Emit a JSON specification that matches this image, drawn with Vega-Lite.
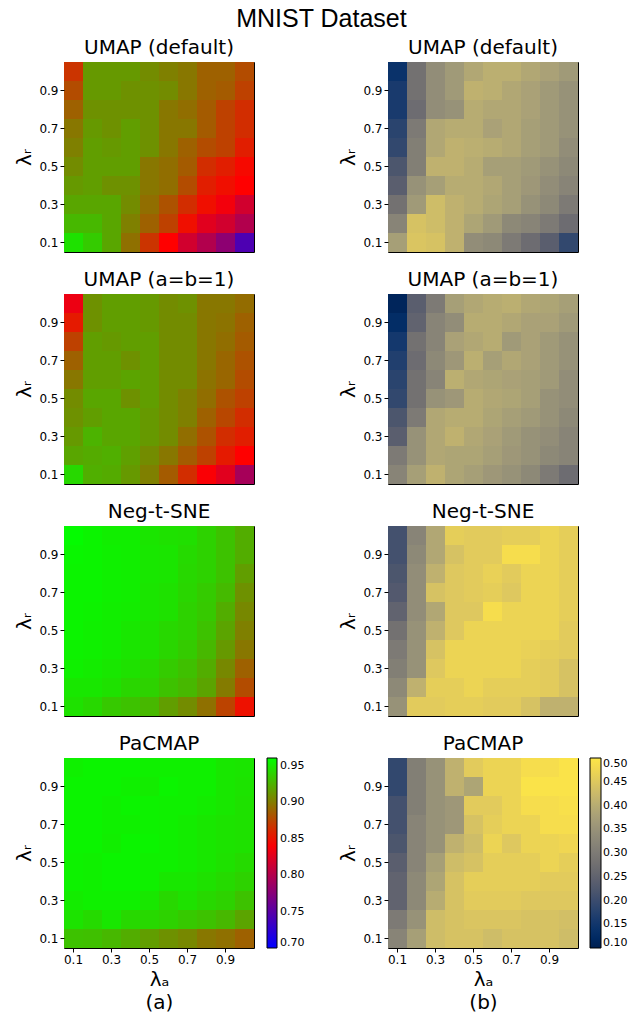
{
"$schema":"https://vega.github.io/schema/vega-lite/v6.json",
"background":"white",
"padding":{"left":14,"top":6,"right":2,"bottom":2},
"title":{"text":"MNIST Dataset","font":"Liberation Sans","fontSize":25,"anchor":"middle","offset":6},
"datasets":{
"a1":[
{"x":0.1,"y":1,"v":0.867},{"x":0.2,"y":1,"v":0.914},{"x":0.3,"y":1,"v":0.914},{"x":0.4,"y":1,"v":0.914},{"x":0.5,"y":1,"v":0.908},{"x":0.6,"y":1,"v":0.902},{"x":0.7,"y":1,"v":0.898},{"x":0.8,"y":1,"v":0.888},{"x":0.9,"y":1,"v":0.888},{"x":1,"y":1,"v":0.878},
{"x":0.1,"y":0.9,"v":0.878},{"x":0.2,"y":0.9,"v":0.914},{"x":0.3,"y":0.9,"v":0.914},{"x":0.4,"y":0.9,"v":0.910},{"x":0.5,"y":0.9,"v":0.910},{"x":0.6,"y":0.9,"v":0.908},{"x":0.7,"y":0.9,"v":0.898},{"x":0.8,"y":0.9,"v":0.888},{"x":0.9,"y":0.9,"v":0.885},{"x":1,"y":0.9,"v":0.873},
{"x":0.1,"y":0.8,"v":0.888},{"x":0.2,"y":0.8,"v":0.910},{"x":0.3,"y":0.8,"v":0.910},{"x":0.4,"y":0.8,"v":0.910},{"x":0.5,"y":0.8,"v":0.910},{"x":0.6,"y":0.8,"v":0.898},{"x":0.7,"y":0.8,"v":0.894},{"x":0.8,"y":0.8,"v":0.885},{"x":0.9,"y":0.8,"v":0.873},{"x":1,"y":0.8,"v":0.864},
{"x":0.1,"y":0.7,"v":0.898},{"x":0.2,"y":0.7,"v":0.914},{"x":0.3,"y":0.7,"v":0.910},{"x":0.4,"y":0.7,"v":0.916},{"x":0.5,"y":0.7,"v":0.910},{"x":0.6,"y":0.7,"v":0.898},{"x":0.7,"y":0.7,"v":0.898},{"x":0.8,"y":0.7,"v":0.885},{"x":0.9,"y":0.7,"v":0.873},{"x":1,"y":0.7,"v":0.864},
{"x":0.1,"y":0.6,"v":0.902},{"x":0.2,"y":0.6,"v":0.916},{"x":0.3,"y":0.6,"v":0.914},{"x":0.4,"y":0.6,"v":0.916},{"x":0.5,"y":0.6,"v":0.910},{"x":0.6,"y":0.6,"v":0.898},{"x":0.7,"y":0.6,"v":0.888},{"x":0.8,"y":0.6,"v":0.878},{"x":0.9,"y":0.6,"v":0.873},{"x":1,"y":0.6,"v":0.857},
{"x":0.1,"y":0.5,"v":0.908},{"x":0.2,"y":0.5,"v":0.916},{"x":0.3,"y":0.5,"v":0.916},{"x":0.4,"y":0.5,"v":0.916},{"x":0.5,"y":0.5,"v":0.898},{"x":0.6,"y":0.5,"v":0.894},{"x":0.7,"y":0.5,"v":0.885},{"x":0.8,"y":0.5,"v":0.864},{"x":0.9,"y":0.5,"v":0.857},{"x":1,"y":0.5,"v":0.847},
{"x":0.1,"y":0.4,"v":0.914},{"x":0.2,"y":0.4,"v":0.916},{"x":0.3,"y":0.4,"v":0.910},{"x":0.4,"y":0.4,"v":0.910},{"x":0.5,"y":0.4,"v":0.898},{"x":0.6,"y":0.4,"v":0.894},{"x":0.7,"y":0.4,"v":0.878},{"x":0.8,"y":0.4,"v":0.857},{"x":0.9,"y":0.4,"v":0.850},{"x":1,"y":0.4,"v":0.843},
{"x":0.1,"y":0.3,"v":0.920},{"x":0.2,"y":0.3,"v":0.920},{"x":0.3,"y":0.3,"v":0.920},{"x":0.4,"y":0.3,"v":0.908},{"x":0.5,"y":0.3,"v":0.894},{"x":0.6,"y":0.3,"v":0.881},{"x":0.7,"y":0.3,"v":0.864},{"x":0.8,"y":0.3,"v":0.850},{"x":0.9,"y":0.3,"v":0.836},{"x":1,"y":0.3,"v":0.817},
{"x":0.1,"y":0.2,"v":0.928},{"x":0.2,"y":0.2,"v":0.928},{"x":0.3,"y":0.2,"v":0.920},{"x":0.4,"y":0.2,"v":0.902},{"x":0.5,"y":0.2,"v":0.888},{"x":0.6,"y":0.2,"v":0.873},{"x":0.7,"y":0.2,"v":0.850},{"x":0.8,"y":0.2,"v":0.826},{"x":0.9,"y":0.2,"v":0.817},{"x":1,"y":0.2,"v":0.800},
{"x":0.1,"y":0.1,"v":0.947},{"x":0.2,"y":0.1,"v":0.937},{"x":0.3,"y":0.1,"v":0.920},{"x":0.4,"y":0.1,"v":0.895},{"x":0.5,"y":0.1,"v":0.867},{"x":0.6,"y":0.1,"v":0.843},{"x":0.7,"y":0.1,"v":0.817},{"x":0.8,"y":0.1,"v":0.800},{"x":0.9,"y":0.1,"v":0.779},{"x":1,"y":0.1,"v":0.743}
],
"a2":[
{"x":0.1,"y":1,"v":0.833},{"x":0.2,"y":1,"v":0.910},{"x":0.3,"y":1,"v":0.916},{"x":0.4,"y":1,"v":0.916},{"x":0.5,"y":1,"v":0.914},{"x":0.6,"y":1,"v":0.908},{"x":0.7,"y":1,"v":0.910},{"x":0.8,"y":1,"v":0.898},{"x":0.9,"y":1,"v":0.898},{"x":1,"y":1,"v":0.893},
{"x":0.1,"y":0.9,"v":0.855},{"x":0.2,"y":0.9,"v":0.910},{"x":0.3,"y":0.9,"v":0.916},{"x":0.4,"y":0.9,"v":0.916},{"x":0.5,"y":0.9,"v":0.914},{"x":0.6,"y":0.9,"v":0.908},{"x":0.7,"y":0.9,"v":0.908},{"x":0.8,"y":0.9,"v":0.898},{"x":0.9,"y":0.9,"v":0.896},{"x":1,"y":0.9,"v":0.888},
{"x":0.1,"y":0.8,"v":0.873},{"x":0.2,"y":0.8,"v":0.916},{"x":0.3,"y":0.8,"v":0.914},{"x":0.4,"y":0.8,"v":0.916},{"x":0.5,"y":0.8,"v":0.916},{"x":0.6,"y":0.8,"v":0.908},{"x":0.7,"y":0.8,"v":0.908},{"x":0.8,"y":0.8,"v":0.898},{"x":0.9,"y":0.8,"v":0.894},{"x":1,"y":0.8,"v":0.885},
{"x":0.1,"y":0.7,"v":0.888},{"x":0.2,"y":0.7,"v":0.916},{"x":0.3,"y":0.7,"v":0.916},{"x":0.4,"y":0.7,"v":0.910},{"x":0.5,"y":0.7,"v":0.916},{"x":0.6,"y":0.7,"v":0.908},{"x":0.7,"y":0.7,"v":0.908},{"x":0.8,"y":0.7,"v":0.898},{"x":0.9,"y":0.7,"v":0.890},{"x":1,"y":0.7,"v":0.881},
{"x":0.1,"y":0.6,"v":0.898},{"x":0.2,"y":0.6,"v":0.916},{"x":0.3,"y":0.6,"v":0.916},{"x":0.4,"y":0.6,"v":0.919},{"x":0.5,"y":0.6,"v":0.916},{"x":0.6,"y":0.6,"v":0.908},{"x":0.7,"y":0.6,"v":0.908},{"x":0.8,"y":0.6,"v":0.896},{"x":0.9,"y":0.6,"v":0.890},{"x":1,"y":0.6,"v":0.878},
{"x":0.1,"y":0.5,"v":0.908},{"x":0.2,"y":0.5,"v":0.920},{"x":0.3,"y":0.5,"v":0.920},{"x":0.4,"y":0.5,"v":0.910},{"x":0.5,"y":0.5,"v":0.916},{"x":0.6,"y":0.5,"v":0.908},{"x":0.7,"y":0.5,"v":0.902},{"x":0.8,"y":0.5,"v":0.894},{"x":0.9,"y":0.5,"v":0.881},{"x":1,"y":0.5,"v":0.873},
{"x":0.1,"y":0.4,"v":0.910},{"x":0.2,"y":0.4,"v":0.916},{"x":0.3,"y":0.4,"v":0.920},{"x":0.4,"y":0.4,"v":0.920},{"x":0.5,"y":0.4,"v":0.914},{"x":0.6,"y":0.4,"v":0.908},{"x":0.7,"y":0.4,"v":0.902},{"x":0.8,"y":0.4,"v":0.888},{"x":0.9,"y":0.4,"v":0.876},{"x":1,"y":0.4,"v":0.864},
{"x":0.1,"y":0.3,"v":0.914},{"x":0.2,"y":0.3,"v":0.926},{"x":0.3,"y":0.3,"v":0.920},{"x":0.4,"y":0.3,"v":0.920},{"x":0.5,"y":0.3,"v":0.914},{"x":0.6,"y":0.3,"v":0.908},{"x":0.7,"y":0.3,"v":0.894},{"x":0.8,"y":0.3,"v":0.881},{"x":0.9,"y":0.3,"v":0.864},{"x":1,"y":0.3,"v":0.857},
{"x":0.1,"y":0.2,"v":0.920},{"x":0.2,"y":0.2,"v":0.922},{"x":0.3,"y":0.2,"v":0.924},{"x":0.4,"y":0.2,"v":0.917},{"x":0.5,"y":0.2,"v":0.908},{"x":0.6,"y":0.2,"v":0.898},{"x":0.7,"y":0.2,"v":0.885},{"x":0.8,"y":0.2,"v":0.873},{"x":0.9,"y":0.2,"v":0.855},{"x":1,"y":0.2,"v":0.843},
{"x":0.1,"y":0.1,"v":0.943},{"x":0.2,"y":0.1,"v":0.924},{"x":0.3,"y":0.1,"v":0.922},{"x":0.4,"y":0.1,"v":0.914},{"x":0.5,"y":0.1,"v":0.902},{"x":0.6,"y":0.1,"v":0.885},{"x":0.7,"y":0.1,"v":0.864},{"x":0.8,"y":0.1,"v":0.840},{"x":0.9,"y":0.1,"v":0.826},{"x":1,"y":0.1,"v":0.793}
],
"a3":[
{"x":0.1,"y":1,"v":0.959},{"x":0.2,"y":1,"v":0.956},{"x":0.3,"y":1,"v":0.953},{"x":0.4,"y":1,"v":0.953},{"x":0.5,"y":1,"v":0.949},{"x":0.6,"y":1,"v":0.947},{"x":0.7,"y":1,"v":0.946},{"x":0.8,"y":1,"v":0.940},{"x":0.9,"y":1,"v":0.933},{"x":1,"y":1,"v":0.923},
{"x":0.1,"y":0.9,"v":0.957},{"x":0.2,"y":0.9,"v":0.956},{"x":0.3,"y":0.9,"v":0.954},{"x":0.4,"y":0.9,"v":0.953},{"x":0.5,"y":0.9,"v":0.950},{"x":0.6,"y":0.9,"v":0.949},{"x":0.7,"y":0.9,"v":0.944},{"x":0.8,"y":0.9,"v":0.940},{"x":0.9,"y":0.9,"v":0.933},{"x":1,"y":0.9,"v":0.923},
{"x":0.1,"y":0.8,"v":0.956},{"x":0.2,"y":0.8,"v":0.956},{"x":0.3,"y":0.8,"v":0.954},{"x":0.4,"y":0.8,"v":0.953},{"x":0.5,"y":0.8,"v":0.950},{"x":0.6,"y":0.8,"v":0.949},{"x":0.7,"y":0.8,"v":0.943},{"x":0.8,"y":0.8,"v":0.940},{"x":0.9,"y":0.8,"v":0.933},{"x":1,"y":0.8,"v":0.916},
{"x":0.1,"y":0.7,"v":0.956},{"x":0.2,"y":0.7,"v":0.956},{"x":0.3,"y":0.7,"v":0.954},{"x":0.4,"y":0.7,"v":0.953},{"x":0.5,"y":0.7,"v":0.949},{"x":0.6,"y":0.7,"v":0.947},{"x":0.7,"y":0.7,"v":0.942},{"x":0.8,"y":0.7,"v":0.937},{"x":0.9,"y":0.7,"v":0.929},{"x":1,"y":0.7,"v":0.910},
{"x":0.1,"y":0.6,"v":0.956},{"x":0.2,"y":0.6,"v":0.955},{"x":0.3,"y":0.6,"v":0.953},{"x":0.4,"y":0.6,"v":0.952},{"x":0.5,"y":0.6,"v":0.949},{"x":0.6,"y":0.6,"v":0.947},{"x":0.7,"y":0.6,"v":0.940},{"x":0.8,"y":0.6,"v":0.936},{"x":0.9,"y":0.6,"v":0.923},{"x":1,"y":0.6,"v":0.906},
{"x":0.1,"y":0.5,"v":0.956},{"x":0.2,"y":0.5,"v":0.954},{"x":0.3,"y":0.5,"v":0.953},{"x":0.4,"y":0.5,"v":0.950},{"x":0.5,"y":0.5,"v":0.947},{"x":0.6,"y":0.5,"v":0.943},{"x":0.7,"y":0.5,"v":0.940},{"x":0.8,"y":0.5,"v":0.933},{"x":0.9,"y":0.5,"v":0.919},{"x":1,"y":0.5,"v":0.902},
{"x":0.1,"y":0.4,"v":0.955},{"x":0.2,"y":0.4,"v":0.954},{"x":0.3,"y":0.4,"v":0.952},{"x":0.4,"y":0.4,"v":0.949},{"x":0.5,"y":0.4,"v":0.947},{"x":0.6,"y":0.4,"v":0.942},{"x":0.7,"y":0.4,"v":0.937},{"x":0.8,"y":0.4,"v":0.928},{"x":0.9,"y":0.4,"v":0.914},{"x":1,"y":0.4,"v":0.898},
{"x":0.1,"y":0.3,"v":0.954},{"x":0.2,"y":0.3,"v":0.952},{"x":0.3,"y":0.3,"v":0.950},{"x":0.4,"y":0.3,"v":0.947},{"x":0.5,"y":0.3,"v":0.943},{"x":0.6,"y":0.3,"v":0.937},{"x":0.7,"y":0.3,"v":0.932},{"x":0.8,"y":0.3,"v":0.923},{"x":0.9,"y":0.3,"v":0.906},{"x":1,"y":0.3,"v":0.888},
{"x":0.1,"y":0.2,"v":0.950},{"x":0.2,"y":0.2,"v":0.950},{"x":0.3,"y":0.2,"v":0.947},{"x":0.4,"y":0.2,"v":0.942},{"x":0.5,"y":0.2,"v":0.940},{"x":0.6,"y":0.2,"v":0.933},{"x":0.7,"y":0.2,"v":0.928},{"x":0.8,"y":0.2,"v":0.919},{"x":0.9,"y":0.2,"v":0.900},{"x":1,"y":0.2,"v":0.878},
{"x":0.1,"y":0.1,"v":0.947},{"x":0.2,"y":0.1,"v":0.943},{"x":0.3,"y":0.1,"v":0.936},{"x":0.4,"y":0.1,"v":0.933},{"x":0.5,"y":0.1,"v":0.928},{"x":0.6,"y":0.1,"v":0.916},{"x":0.7,"y":0.1,"v":0.908},{"x":0.8,"y":0.1,"v":0.895},{"x":0.9,"y":0.1,"v":0.874},{"x":1,"y":0.1,"v":0.851}
],
"a4":[
{"x":0.1,"y":1,"v":0.954},{"x":0.2,"y":1,"v":0.956},{"x":0.3,"y":1,"v":0.956},{"x":0.4,"y":1,"v":0.956},{"x":0.5,"y":1,"v":0.954},{"x":0.6,"y":1,"v":0.954},{"x":0.7,"y":1,"v":0.954},{"x":0.8,"y":1,"v":0.954},{"x":0.9,"y":1,"v":0.950},{"x":1,"y":1,"v":0.949},
{"x":0.1,"y":0.9,"v":0.956},{"x":0.2,"y":0.9,"v":0.956},{"x":0.3,"y":0.9,"v":0.956},{"x":0.4,"y":0.9,"v":0.954},{"x":0.5,"y":0.9,"v":0.952},{"x":0.6,"y":0.9,"v":0.956},{"x":0.7,"y":0.9,"v":0.954},{"x":0.8,"y":0.9,"v":0.954},{"x":0.9,"y":0.9,"v":0.950},{"x":1,"y":0.9,"v":0.948},
{"x":0.1,"y":0.8,"v":0.956},{"x":0.2,"y":0.8,"v":0.956},{"x":0.3,"y":0.8,"v":0.954},{"x":0.4,"y":0.8,"v":0.956},{"x":0.5,"y":0.8,"v":0.955},{"x":0.6,"y":0.8,"v":0.954},{"x":0.7,"y":0.8,"v":0.954},{"x":0.8,"y":0.8,"v":0.952},{"x":0.9,"y":0.8,"v":0.950},{"x":1,"y":0.8,"v":0.947},
{"x":0.1,"y":0.7,"v":0.956},{"x":0.2,"y":0.7,"v":0.956},{"x":0.3,"y":0.7,"v":0.954},{"x":0.4,"y":0.7,"v":0.954},{"x":0.5,"y":0.7,"v":0.955},{"x":0.6,"y":0.7,"v":0.954},{"x":0.7,"y":0.7,"v":0.952},{"x":0.8,"y":0.7,"v":0.950},{"x":0.9,"y":0.7,"v":0.948},{"x":1,"y":0.7,"v":0.947},
{"x":0.1,"y":0.6,"v":0.956},{"x":0.2,"y":0.6,"v":0.956},{"x":0.3,"y":0.6,"v":0.953},{"x":0.4,"y":0.6,"v":0.956},{"x":0.5,"y":0.6,"v":0.956},{"x":0.6,"y":0.6,"v":0.954},{"x":0.7,"y":0.6,"v":0.952},{"x":0.8,"y":0.6,"v":0.950},{"x":0.9,"y":0.6,"v":0.948},{"x":1,"y":0.6,"v":0.947},
{"x":0.1,"y":0.5,"v":0.955},{"x":0.2,"y":0.5,"v":0.954},{"x":0.3,"y":0.5,"v":0.956},{"x":0.4,"y":0.5,"v":0.956},{"x":0.5,"y":0.5,"v":0.954},{"x":0.6,"y":0.5,"v":0.954},{"x":0.7,"y":0.5,"v":0.952},{"x":0.8,"y":0.5,"v":0.950},{"x":0.9,"y":0.5,"v":0.947},{"x":1,"y":0.5,"v":0.944},
{"x":0.1,"y":0.4,"v":0.955},{"x":0.2,"y":0.4,"v":0.954},{"x":0.3,"y":0.4,"v":0.956},{"x":0.4,"y":0.4,"v":0.956},{"x":0.5,"y":0.4,"v":0.954},{"x":0.6,"y":0.4,"v":0.950},{"x":0.7,"y":0.4,"v":0.950},{"x":0.8,"y":0.4,"v":0.947},{"x":0.9,"y":0.4,"v":0.944},{"x":1,"y":0.4,"v":0.940},
{"x":0.1,"y":0.3,"v":0.952},{"x":0.2,"y":0.3,"v":0.954},{"x":0.3,"y":0.3,"v":0.954},{"x":0.4,"y":0.3,"v":0.954},{"x":0.5,"y":0.3,"v":0.950},{"x":0.6,"y":0.3,"v":0.943},{"x":0.7,"y":0.3,"v":0.947},{"x":0.8,"y":0.3,"v":0.943},{"x":0.9,"y":0.3,"v":0.940},{"x":1,"y":0.3,"v":0.933},
{"x":0.1,"y":0.2,"v":0.948},{"x":0.2,"y":0.2,"v":0.944},{"x":0.3,"y":0.2,"v":0.950},{"x":0.4,"y":0.2,"v":0.943},{"x":0.5,"y":0.2,"v":0.943},{"x":0.6,"y":0.2,"v":0.940},{"x":0.7,"y":0.2,"v":0.936},{"x":0.8,"y":0.2,"v":0.933},{"x":0.9,"y":0.2,"v":0.928},{"x":1,"y":0.2,"v":0.919},
{"x":0.1,"y":0.1,"v":0.933},{"x":0.2,"y":0.1,"v":0.932},{"x":0.3,"y":0.1,"v":0.928},{"x":0.4,"y":0.1,"v":0.923},{"x":0.5,"y":0.1,"v":0.916},{"x":0.6,"y":0.1,"v":0.910},{"x":0.7,"y":0.1,"v":0.906},{"x":0.8,"y":0.1,"v":0.898},{"x":0.9,"y":0.1,"v":0.895},{"x":1,"y":0.1,"v":0.888}
],
"b1":[
{"x":0.1,"y":1,"v":0.14},{"x":0.2,"y":1,"v":0.28},{"x":0.3,"y":1,"v":0.34},{"x":0.4,"y":1,"v":0.365},{"x":0.5,"y":1,"v":0.39},{"x":0.6,"y":1,"v":0.405},{"x":0.7,"y":1,"v":0.405},{"x":0.8,"y":1,"v":0.39},{"x":0.9,"y":1,"v":0.38},{"x":1,"y":1,"v":0.365},
{"x":0.1,"y":0.9,"v":0.16},{"x":0.2,"y":0.9,"v":0.28},{"x":0.3,"y":0.9,"v":0.34},{"x":0.4,"y":0.9,"v":0.365},{"x":0.5,"y":0.9,"v":0.41},{"x":0.6,"y":0.9,"v":0.405},{"x":0.7,"y":0.9,"v":0.39},{"x":0.8,"y":0.9,"v":0.38},{"x":0.9,"y":0.9,"v":0.365},{"x":1,"y":0.9,"v":0.35},
{"x":0.1,"y":0.8,"v":0.16},{"x":0.2,"y":0.8,"v":0.27},{"x":0.3,"y":0.8,"v":0.34},{"x":0.4,"y":0.8,"v":0.35},{"x":0.5,"y":0.8,"v":0.40},{"x":0.6,"y":0.8,"v":0.39},{"x":0.7,"y":0.8,"v":0.39},{"x":0.8,"y":0.8,"v":0.38},{"x":0.9,"y":0.8,"v":0.365},{"x":1,"y":0.8,"v":0.35},
{"x":0.1,"y":0.7,"v":0.18},{"x":0.2,"y":0.7,"v":0.30},{"x":0.3,"y":0.7,"v":0.39},{"x":0.4,"y":0.7,"v":0.40},{"x":0.5,"y":0.7,"v":0.40},{"x":0.6,"y":0.7,"v":0.38},{"x":0.7,"y":0.7,"v":0.39},{"x":0.8,"y":0.7,"v":0.375},{"x":0.9,"y":0.7,"v":0.365},{"x":1,"y":0.7,"v":0.35},
{"x":0.1,"y":0.6,"v":0.19},{"x":0.2,"y":0.6,"v":0.31},{"x":0.3,"y":0.6,"v":0.39},{"x":0.4,"y":0.6,"v":0.41},{"x":0.5,"y":0.6,"v":0.405},{"x":0.6,"y":0.6,"v":0.40},{"x":0.7,"y":0.6,"v":0.39},{"x":0.8,"y":0.6,"v":0.375},{"x":0.9,"y":0.6,"v":0.365},{"x":1,"y":0.6,"v":0.34},
{"x":0.1,"y":0.5,"v":0.22},{"x":0.2,"y":0.5,"v":0.31},{"x":0.3,"y":0.5,"v":0.41},{"x":0.4,"y":0.5,"v":0.41},{"x":0.5,"y":0.5,"v":0.40},{"x":0.6,"y":0.5,"v":0.375},{"x":0.7,"y":0.5,"v":0.375},{"x":0.8,"y":0.5,"v":0.365},{"x":0.9,"y":0.5,"v":0.35},{"x":1,"y":0.5,"v":0.33},
{"x":0.1,"y":0.4,"v":0.24},{"x":0.2,"y":0.4,"v":0.35},{"x":0.3,"y":0.4,"v":0.375},{"x":0.4,"y":0.4,"v":0.40},{"x":0.5,"y":0.4,"v":0.40},{"x":0.6,"y":0.4,"v":0.39},{"x":0.7,"y":0.4,"v":0.375},{"x":0.8,"y":0.4,"v":0.36},{"x":0.9,"y":0.4,"v":0.34},{"x":1,"y":0.4,"v":0.32},
{"x":0.1,"y":0.3,"v":0.28},{"x":0.2,"y":0.3,"v":0.365},{"x":0.3,"y":0.3,"v":0.43},{"x":0.4,"y":0.3,"v":0.41},{"x":0.5,"y":0.3,"v":0.40},{"x":0.6,"y":0.3,"v":0.385},{"x":0.7,"y":0.3,"v":0.375},{"x":0.8,"y":0.3,"v":0.35},{"x":0.9,"y":0.3,"v":0.33},{"x":1,"y":0.3,"v":0.30},
{"x":0.1,"y":0.2,"v":0.32},{"x":0.2,"y":0.2,"v":0.44},{"x":0.3,"y":0.2,"v":0.43},{"x":0.4,"y":0.2,"v":0.41},{"x":0.5,"y":0.2,"v":0.385},{"x":0.6,"y":0.2,"v":0.365},{"x":0.7,"y":0.2,"v":0.33},{"x":0.8,"y":0.2,"v":0.32},{"x":0.9,"y":0.2,"v":0.30},{"x":1,"y":0.2,"v":0.27},
{"x":0.1,"y":0.1,"v":0.375},{"x":0.2,"y":0.1,"v":0.445},{"x":0.3,"y":0.1,"v":0.44},{"x":0.4,"y":0.1,"v":0.41},{"x":0.5,"y":0.1,"v":0.34},{"x":0.6,"y":0.1,"v":0.33},{"x":0.7,"y":0.1,"v":0.30},{"x":0.8,"y":0.1,"v":0.27},{"x":0.9,"y":0.1,"v":0.24},{"x":1,"y":0.1,"v":0.19}
],
"b2":[
{"x":0.1,"y":1,"v":0.11},{"x":0.2,"y":1,"v":0.24},{"x":0.3,"y":1,"v":0.30},{"x":0.4,"y":1,"v":0.375},{"x":0.5,"y":1,"v":0.39},{"x":0.6,"y":1,"v":0.40},{"x":0.7,"y":1,"v":0.405},{"x":0.8,"y":1,"v":0.39},{"x":0.9,"y":1,"v":0.385},{"x":1,"y":1,"v":0.375},
{"x":0.1,"y":0.9,"v":0.13},{"x":0.2,"y":0.9,"v":0.25},{"x":0.3,"y":0.9,"v":0.32},{"x":0.4,"y":0.9,"v":0.34},{"x":0.5,"y":0.9,"v":0.40},{"x":0.6,"y":0.9,"v":0.40},{"x":0.7,"y":0.9,"v":0.39},{"x":0.8,"y":0.9,"v":0.38},{"x":0.9,"y":0.9,"v":0.38},{"x":1,"y":0.9,"v":0.365},
{"x":0.1,"y":0.8,"v":0.155},{"x":0.2,"y":0.8,"v":0.28},{"x":0.3,"y":0.8,"v":0.32},{"x":0.4,"y":0.8,"v":0.38},{"x":0.5,"y":0.8,"v":0.39},{"x":0.6,"y":0.8,"v":0.40},{"x":0.7,"y":0.8,"v":0.365},{"x":0.8,"y":0.8,"v":0.38},{"x":0.9,"y":0.8,"v":0.365},{"x":1,"y":0.8,"v":0.35},
{"x":0.1,"y":0.7,"v":0.17},{"x":0.2,"y":0.7,"v":0.27},{"x":0.3,"y":0.7,"v":0.33},{"x":0.4,"y":0.7,"v":0.36},{"x":0.5,"y":0.7,"v":0.405},{"x":0.6,"y":0.7,"v":0.375},{"x":0.7,"y":0.7,"v":0.39},{"x":0.8,"y":0.7,"v":0.38},{"x":0.9,"y":0.7,"v":0.365},{"x":1,"y":0.7,"v":0.35},
{"x":0.1,"y":0.6,"v":0.18},{"x":0.2,"y":0.6,"v":0.28},{"x":0.3,"y":0.6,"v":0.32},{"x":0.4,"y":0.6,"v":0.405},{"x":0.5,"y":0.6,"v":0.39},{"x":0.6,"y":0.6,"v":0.385},{"x":0.7,"y":0.6,"v":0.38},{"x":0.8,"y":0.6,"v":0.375},{"x":0.9,"y":0.6,"v":0.365},{"x":1,"y":0.6,"v":0.34},
{"x":0.1,"y":0.5,"v":0.19},{"x":0.2,"y":0.5,"v":0.28},{"x":0.3,"y":0.5,"v":0.35},{"x":0.4,"y":0.5,"v":0.36},{"x":0.5,"y":0.5,"v":0.40},{"x":0.6,"y":0.5,"v":0.39},{"x":0.7,"y":0.5,"v":0.385},{"x":0.8,"y":0.5,"v":0.375},{"x":0.9,"y":0.5,"v":0.35},{"x":1,"y":0.5,"v":0.34},
{"x":0.1,"y":0.4,"v":0.22},{"x":0.2,"y":0.4,"v":0.30},{"x":0.3,"y":0.4,"v":0.39},{"x":0.4,"y":0.4,"v":0.40},{"x":0.5,"y":0.4,"v":0.40},{"x":0.6,"y":0.4,"v":0.385},{"x":0.7,"y":0.4,"v":0.375},{"x":0.8,"y":0.4,"v":0.365},{"x":0.9,"y":0.4,"v":0.35},{"x":1,"y":0.4,"v":0.33},
{"x":0.1,"y":0.3,"v":0.24},{"x":0.2,"y":0.3,"v":0.35},{"x":0.3,"y":0.3,"v":0.39},{"x":0.4,"y":0.3,"v":0.41},{"x":0.5,"y":0.3,"v":0.39},{"x":0.6,"y":0.3,"v":0.38},{"x":0.7,"y":0.3,"v":0.365},{"x":0.8,"y":0.3,"v":0.35},{"x":0.9,"y":0.3,"v":0.34},{"x":1,"y":0.3,"v":0.32},
{"x":0.1,"y":0.2,"v":0.30},{"x":0.2,"y":0.2,"v":0.35},{"x":0.3,"y":0.2,"v":0.39},{"x":0.4,"y":0.2,"v":0.385},{"x":0.5,"y":0.2,"v":0.385},{"x":0.6,"y":0.2,"v":0.375},{"x":0.7,"y":0.2,"v":0.36},{"x":0.8,"y":0.2,"v":0.35},{"x":0.9,"y":0.2,"v":0.33},{"x":1,"y":0.2,"v":0.32},
{"x":0.1,"y":0.1,"v":0.32},{"x":0.2,"y":0.1,"v":0.375},{"x":0.3,"y":0.1,"v":0.41},{"x":0.4,"y":0.1,"v":0.385},{"x":0.5,"y":0.1,"v":0.375},{"x":0.6,"y":0.1,"v":0.36},{"x":0.7,"y":0.1,"v":0.35},{"x":0.8,"y":0.1,"v":0.33},{"x":0.9,"y":0.1,"v":0.30},{"x":1,"y":0.1,"v":0.27}
],
"b3":[
{"x":0.1,"y":1,"v":0.21},{"x":0.2,"y":1,"v":0.32},{"x":0.3,"y":1,"v":0.39},{"x":0.4,"y":1,"v":0.46},{"x":0.5,"y":1,"v":0.455},{"x":0.6,"y":1,"v":0.455},{"x":0.7,"y":1,"v":0.46},{"x":0.8,"y":1,"v":0.46},{"x":0.9,"y":1,"v":0.47},{"x":1,"y":1,"v":0.46},
{"x":0.1,"y":0.9,"v":0.21},{"x":0.2,"y":0.9,"v":0.33},{"x":0.3,"y":0.9,"v":0.39},{"x":0.4,"y":0.9,"v":0.44},{"x":0.5,"y":0.9,"v":0.455},{"x":0.6,"y":0.9,"v":0.455},{"x":0.7,"y":0.9,"v":0.485},{"x":0.8,"y":0.9,"v":0.485},{"x":0.9,"y":0.9,"v":0.47},{"x":1,"y":0.9,"v":0.46},
{"x":0.1,"y":0.8,"v":0.22},{"x":0.2,"y":0.8,"v":0.34},{"x":0.3,"y":0.8,"v":0.41},{"x":0.4,"y":0.8,"v":0.45},{"x":0.5,"y":0.8,"v":0.455},{"x":0.6,"y":0.8,"v":0.465},{"x":0.7,"y":0.8,"v":0.455},{"x":0.8,"y":0.8,"v":0.47},{"x":0.9,"y":0.8,"v":0.47},{"x":1,"y":0.8,"v":0.46},
{"x":0.1,"y":0.7,"v":0.23},{"x":0.2,"y":0.7,"v":0.34},{"x":0.3,"y":0.7,"v":0.44},{"x":0.4,"y":0.7,"v":0.45},{"x":0.5,"y":0.7,"v":0.455},{"x":0.6,"y":0.7,"v":0.46},{"x":0.7,"y":0.7,"v":0.45},{"x":0.8,"y":0.7,"v":0.47},{"x":0.9,"y":0.7,"v":0.47},{"x":1,"y":0.7,"v":0.46},
{"x":0.1,"y":0.6,"v":0.25},{"x":0.2,"y":0.6,"v":0.34},{"x":0.3,"y":0.6,"v":0.39},{"x":0.4,"y":0.6,"v":0.45},{"x":0.5,"y":0.6,"v":0.45},{"x":0.6,"y":0.6,"v":0.485},{"x":0.7,"y":0.6,"v":0.47},{"x":0.8,"y":0.6,"v":0.47},{"x":0.9,"y":0.6,"v":0.47},{"x":1,"y":0.6,"v":0.46},
{"x":0.1,"y":0.5,"v":0.28},{"x":0.2,"y":0.5,"v":0.35},{"x":0.3,"y":0.5,"v":0.41},{"x":0.4,"y":0.5,"v":0.45},{"x":0.5,"y":0.5,"v":0.47},{"x":0.6,"y":0.5,"v":0.47},{"x":0.7,"y":0.5,"v":0.47},{"x":0.8,"y":0.5,"v":0.47},{"x":0.9,"y":0.5,"v":0.47},{"x":1,"y":0.5,"v":0.455},
{"x":0.1,"y":0.4,"v":0.30},{"x":0.2,"y":0.4,"v":0.35},{"x":0.3,"y":0.4,"v":0.44},{"x":0.4,"y":0.4,"v":0.47},{"x":0.5,"y":0.4,"v":0.47},{"x":0.6,"y":0.4,"v":0.47},{"x":0.7,"y":0.4,"v":0.47},{"x":0.8,"y":0.4,"v":0.465},{"x":0.9,"y":0.4,"v":0.46},{"x":1,"y":0.4,"v":0.455},
{"x":0.1,"y":0.3,"v":0.31},{"x":0.2,"y":0.3,"v":0.35},{"x":0.3,"y":0.3,"v":0.45},{"x":0.4,"y":0.3,"v":0.47},{"x":0.5,"y":0.3,"v":0.47},{"x":0.6,"y":0.3,"v":0.47},{"x":0.7,"y":0.3,"v":0.47},{"x":0.8,"y":0.3,"v":0.46},{"x":0.9,"y":0.3,"v":0.455},{"x":1,"y":0.3,"v":0.44},
{"x":0.1,"y":0.2,"v":0.33},{"x":0.2,"y":0.2,"v":0.41},{"x":0.3,"y":0.2,"v":0.46},{"x":0.4,"y":0.2,"v":0.46},{"x":0.5,"y":0.2,"v":0.47},{"x":0.6,"y":0.2,"v":0.46},{"x":0.7,"y":0.2,"v":0.46},{"x":0.8,"y":0.2,"v":0.46},{"x":0.9,"y":0.2,"v":0.455},{"x":1,"y":0.2,"v":0.44},
{"x":0.1,"y":0.1,"v":0.35},{"x":0.2,"y":0.1,"v":0.455},{"x":0.3,"y":0.1,"v":0.455},{"x":0.4,"y":0.1,"v":0.46},{"x":0.5,"y":0.1,"v":0.46},{"x":0.6,"y":0.1,"v":0.455},{"x":0.7,"y":0.1,"v":0.455},{"x":0.8,"y":0.1,"v":0.44},{"x":0.9,"y":0.1,"v":0.41},{"x":1,"y":0.1,"v":0.41}
],
"b4":[
{"x":0.1,"y":1,"v":0.19},{"x":0.2,"y":1,"v":0.31},{"x":0.3,"y":1,"v":0.35},{"x":0.4,"y":1,"v":0.41},{"x":0.5,"y":1,"v":0.455},{"x":0.6,"y":1,"v":0.47},{"x":0.7,"y":1,"v":0.47},{"x":0.8,"y":1,"v":0.485},{"x":0.9,"y":1,"v":0.485},{"x":1,"y":1,"v":0.495},
{"x":0.1,"y":0.9,"v":0.19},{"x":0.2,"y":0.9,"v":0.31},{"x":0.3,"y":0.9,"v":0.35},{"x":0.4,"y":0.9,"v":0.41},{"x":0.5,"y":0.9,"v":0.385},{"x":0.6,"y":0.9,"v":0.47},{"x":0.7,"y":0.9,"v":0.47},{"x":0.8,"y":0.9,"v":0.495},{"x":0.9,"y":0.9,"v":0.495},{"x":1,"y":0.9,"v":0.495},
{"x":0.1,"y":0.8,"v":0.21},{"x":0.2,"y":0.8,"v":0.31},{"x":0.3,"y":0.8,"v":0.35},{"x":0.4,"y":0.8,"v":0.36},{"x":0.5,"y":0.8,"v":0.455},{"x":0.6,"y":0.8,"v":0.455},{"x":0.7,"y":0.8,"v":0.47},{"x":0.8,"y":0.8,"v":0.485},{"x":0.9,"y":0.8,"v":0.485},{"x":1,"y":0.8,"v":0.49},
{"x":0.1,"y":0.7,"v":0.21},{"x":0.2,"y":0.7,"v":0.32},{"x":0.3,"y":0.7,"v":0.35},{"x":0.4,"y":0.7,"v":0.36},{"x":0.5,"y":0.7,"v":0.44},{"x":0.6,"y":0.7,"v":0.46},{"x":0.7,"y":0.7,"v":0.47},{"x":0.8,"y":0.7,"v":0.47},{"x":0.9,"y":0.7,"v":0.485},{"x":1,"y":0.7,"v":0.485},
{"x":0.1,"y":0.6,"v":0.22},{"x":0.2,"y":0.6,"v":0.32},{"x":0.3,"y":0.6,"v":0.35},{"x":0.4,"y":0.6,"v":0.41},{"x":0.5,"y":0.6,"v":0.43},{"x":0.6,"y":0.6,"v":0.47},{"x":0.7,"y":0.6,"v":0.45},{"x":0.8,"y":0.6,"v":0.47},{"x":0.9,"y":0.6,"v":0.47},{"x":1,"y":0.6,"v":0.475},
{"x":0.1,"y":0.5,"v":0.24},{"x":0.2,"y":0.5,"v":0.32},{"x":0.3,"y":0.5,"v":0.375},{"x":0.4,"y":0.5,"v":0.43},{"x":0.5,"y":0.5,"v":0.44},{"x":0.6,"y":0.5,"v":0.46},{"x":0.7,"y":0.5,"v":0.46},{"x":0.8,"y":0.5,"v":0.46},{"x":0.9,"y":0.5,"v":0.47},{"x":1,"y":0.5,"v":0.46},
{"x":0.1,"y":0.4,"v":0.25},{"x":0.2,"y":0.4,"v":0.33},{"x":0.3,"y":0.4,"v":0.385},{"x":0.4,"y":0.4,"v":0.44},{"x":0.5,"y":0.4,"v":0.46},{"x":0.6,"y":0.4,"v":0.46},{"x":0.7,"y":0.4,"v":0.46},{"x":0.8,"y":0.4,"v":0.46},{"x":0.9,"y":0.4,"v":0.455},{"x":1,"y":0.4,"v":0.455},
{"x":0.1,"y":0.3,"v":0.25},{"x":0.2,"y":0.3,"v":0.33},{"x":0.3,"y":0.3,"v":0.40},{"x":0.4,"y":0.3,"v":0.44},{"x":0.5,"y":0.3,"v":0.455},{"x":0.6,"y":0.3,"v":0.455},{"x":0.7,"y":0.3,"v":0.455},{"x":0.8,"y":0.3,"v":0.45},{"x":0.9,"y":0.3,"v":0.45},{"x":1,"y":0.3,"v":0.45},
{"x":0.1,"y":0.2,"v":0.30},{"x":0.2,"y":0.2,"v":0.35},{"x":0.3,"y":0.2,"v":0.43},{"x":0.4,"y":0.2,"v":0.44},{"x":0.5,"y":0.2,"v":0.445},{"x":0.6,"y":0.2,"v":0.445},{"x":0.7,"y":0.2,"v":0.445},{"x":0.8,"y":0.2,"v":0.44},{"x":0.9,"y":0.2,"v":0.44},{"x":1,"y":0.2,"v":0.435},
{"x":0.1,"y":0.1,"v":0.32},{"x":0.2,"y":0.1,"v":0.375},{"x":0.3,"y":0.1,"v":0.43},{"x":0.4,"y":0.1,"v":0.44},{"x":0.5,"y":0.1,"v":0.44},{"x":0.6,"y":0.1,"v":0.43},{"x":0.7,"y":0.1,"v":0.44},{"x":0.8,"y":0.1,"v":0.44},{"x":0.9,"y":0.1,"v":0.44},{"x":1,"y":0.1,"v":0.43}
]
},
"columns":2,
"spacing":{"row":42,"column":134},
"bounds":"flush",
"concat":[
{"title":"UMAP (default)","width":190,"height":190,"data":{"name":"a1"},"mark":"rect","encoding":{
"x":{"field":"x","type":"ordinal","axis":null},
"y":{"field":"y","type":"ordinal","sort":"descending","axis":{"title":"λᵣ","values":[0.1,0.3,0.5,0.7,0.9]}},
"color":{"field":"v","type":"quantitative","scale":{"domain":[0.7,0.843,0.961],"range":["#0000ff","#ff0000","#00ff00"],"interpolate":"rgb"},"legend":null}}},
{"title":"UMAP (default)","width":190,"height":190,"data":{"name":"b1"},"mark":"rect","encoding":{
"x":{"field":"x","type":"ordinal","axis":null},
"y":{"field":"y","type":"ordinal","sort":"descending","axis":{"title":"λᵣ","values":[0.1,0.3,0.5,0.7,0.9]}},
"color":{"field":"v","type":"quantitative","scale":{"scheme":"cividis","domain":[0.1,0.5]},"legend":null}}},
{"title":"UMAP (a=b=1)","width":190,"height":190,"data":{"name":"a2"},"mark":"rect","encoding":{
"x":{"field":"x","type":"ordinal","axis":null},
"y":{"field":"y","type":"ordinal","sort":"descending","axis":{"title":"λᵣ","values":[0.1,0.3,0.5,0.7,0.9]}},
"color":{"field":"v","type":"quantitative","scale":{"domain":[0.7,0.843,0.961],"range":["#0000ff","#ff0000","#00ff00"],"interpolate":"rgb"},"legend":null}}},
{"title":"UMAP (a=b=1)","width":190,"height":190,"data":{"name":"b2"},"mark":"rect","encoding":{
"x":{"field":"x","type":"ordinal","axis":null},
"y":{"field":"y","type":"ordinal","sort":"descending","axis":{"title":"λᵣ","values":[0.1,0.3,0.5,0.7,0.9]}},
"color":{"field":"v","type":"quantitative","scale":{"scheme":"cividis","domain":[0.1,0.5]},"legend":null}}},
{"title":"Neg-t-SNE","width":190,"height":190,"data":{"name":"a3"},"mark":"rect","encoding":{
"x":{"field":"x","type":"ordinal","axis":null},
"y":{"field":"y","type":"ordinal","sort":"descending","axis":{"title":"λᵣ","values":[0.1,0.3,0.5,0.7,0.9]}},
"color":{"field":"v","type":"quantitative","scale":{"domain":[0.7,0.843,0.961],"range":["#0000ff","#ff0000","#00ff00"],"interpolate":"rgb"},"legend":null}}},
{"title":"Neg-t-SNE","width":190,"height":190,"data":{"name":"b3"},"mark":"rect","encoding":{
"x":{"field":"x","type":"ordinal","axis":null},
"y":{"field":"y","type":"ordinal","sort":"descending","axis":{"title":"λᵣ","values":[0.1,0.3,0.5,0.7,0.9]}},
"color":{"field":"v","type":"quantitative","scale":{"scheme":"cividis","domain":[0.1,0.5]},"legend":null}}},
{"title":"PaCMAP","width":190,"height":190,"data":{"name":"a4"},"mark":"rect","encoding":{
"x":{"field":"x","type":"ordinal","axis":{"title":["λₐ","(a)"],"values":[0.1,0.3,0.5,0.7,0.9],"labelAngle":0,"titleFontSize":20,"titleLineHeight":23}},
"y":{"field":"y","type":"ordinal","sort":"descending","axis":{"title":"λᵣ","values":[0.1,0.3,0.5,0.7,0.9]}},
"color":{"field":"v","type":"quantitative","scale":{"domain":[0.7,0.843,0.961],"range":["#0000ff","#ff0000","#00ff00"],"interpolate":"rgb"},
"legend":{"title":null,"values":[0.7,0.75,0.8,0.85,0.9,0.95],"format":".2f","gradientLength":190,"gradientThickness":10,"offset":13,"padding":0,"labelOverlap":false,"gradientStrokeColor":"black","gradientStrokeWidth":1,"labelFontSize":11,"labelColor":"black","labelOffset":3}}}},
{"title":"PaCMAP","width":190,"height":190,"data":{"name":"b4"},"mark":"rect","encoding":{
"x":{"field":"x","type":"ordinal","axis":{"title":["λₐ","(b)"],"values":[0.1,0.3,0.5,0.7,0.9],"labelAngle":0,"titleFontSize":20,"titleLineHeight":23}},
"y":{"field":"y","type":"ordinal","sort":"descending","axis":{"title":"λᵣ","values":[0.1,0.3,0.5,0.7,0.9]}},
"color":{"field":"v","type":"quantitative","scale":{"scheme":"cividis","domain":[0.1,0.5]},
"legend":{"title":null,"values":[0.1,0.15,0.2,0.25,0.3,0.35,0.4,0.45,0.5],"format":".2f","gradientLength":190,"gradientThickness":11,"offset":12,"padding":0,"labelOverlap":false,"gradientStrokeColor":"black","gradientStrokeWidth":1,"labelFontSize":11,"labelColor":"black","labelOffset":2}}}}
],
"resolve":{"scale":{"color":"independent"},"legend":{"color":"independent"}},
"config":{
"font":"DejaVu Sans",
"view":{"stroke":"black","strokeWidth":1},
"title":{"fontSize":20,"fontWeight":"normal","anchor":"middle","offset":4,"color":"black"},
"axis":{"domain":false,"labelFontSize":12,"labelColor":"black","tickColor":"black","tickSize":4,"labelPadding":2,"titleFontSize":20,"titleFontWeight":"normal","titleColor":"black","titlePadding":4,"grid":false}
}
}
